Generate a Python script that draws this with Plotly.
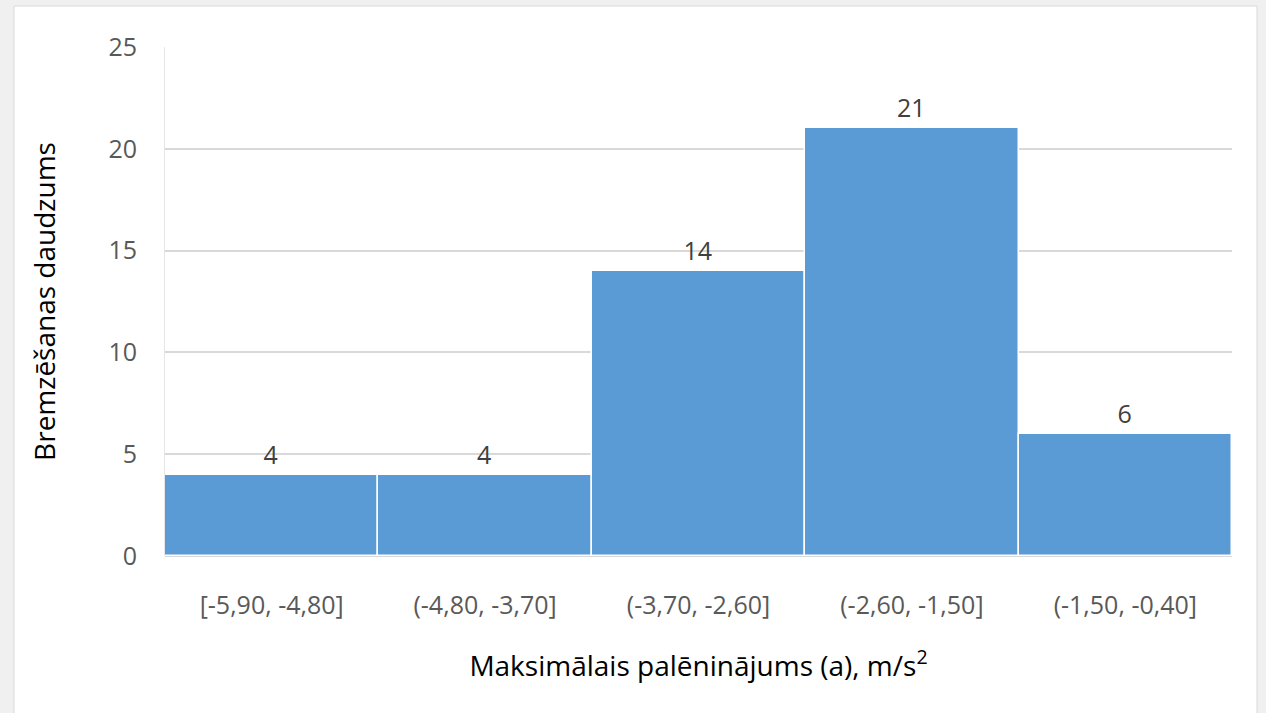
import plotly.graph_objects as go

categories = ["[-5,90, -4,80]", "(-4,80, -3,70]", "(-3,70, -2,60]", "(-2,60, -1,50]", "(-1,50, -0,40]"]
counts = [4, 4, 14, 21, 6]
y_ticks = [0, 5, 10, 15, 20, 25]

L, R, T, B = 165, 34, 47, 157
W, H = 1266, 713
pw, ph = W - L - R, H - T - B

def px_x(p):
    return (p - L) / pw

def px_y(p):
    return (H - B - p) / ph

fig = go.Figure(go.Bar(
    x=categories, y=counts,
    marker=dict(color="#5B9BD5", line=dict(color="white", width=1.5)),
    text=[str(c) for c in counts], textposition="outside",
    textfont=dict(family="Open Sans", size=25, color="#404040"),
    cliponaxis=False,
))

fig.add_shape(type="rect", xref="paper", yref="paper",
              x0=px_x(14), x1=px_x(1257), y0=px_y(730), y1=px_y(6),
              fillcolor="white", line=dict(color="#d9d9d9", width=1), layer="below")

fig.update_layout(
    width=W, height=H,
    margin=dict(l=L, r=R, t=T, b=B),
    paper_bgcolor="#f0f0f0", plot_bgcolor="white",
    bargap=0,
    showlegend=False,
    font=dict(family="Open Sans", color="#595959"),
    xaxis=dict(
        tickfont=dict(size=25, color="#595959"),
        title=dict(text="Maksimālais palēninājums (a), m/s<sup>2</sup>",
                   font=dict(size=28, color="#000000"), standoff=36),
        showline=False, ticks="", ticklabelstandoff=32,
    ),
    yaxis=dict(
        range=[0, 25], tickvals=y_ticks,
        tickfont=dict(size=25, color="#595959"),
        title=dict(text="Bremzēšanas daudzums", font=dict(size=28, color="#000000"), standoff=44),
        gridcolor="#d9d9d9", gridwidth=1.5,
        zeroline=True, zerolinecolor="#d9d9d9", zerolinewidth=1.5,
        showline=True, linecolor="#e6e6e6", linewidth=1,
        ticks="", ticklabelstandoff=22,
    ),
)

fig.write_html("out.html", config={"displayModeBar": False},
               post_script="document.body.style.margin='0';document.body.style.background='#f0f0f0';")
